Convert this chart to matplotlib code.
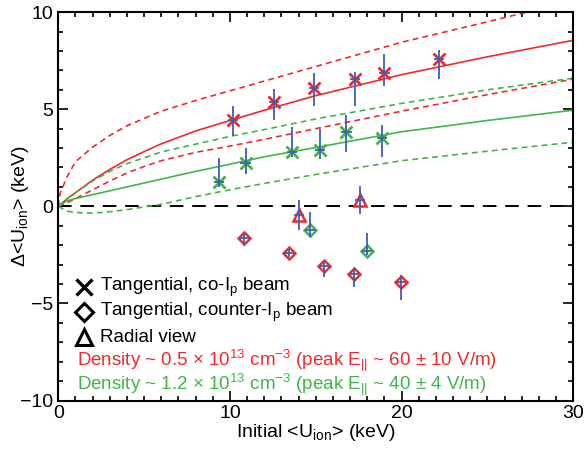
import numpy as np
import matplotlib as mpl
mpl.use('Agg')
import matplotlib.pyplot as plt
from matplotlib.ticker import MultipleLocator

plt.rcParams['font.family'] = ['Liberation Sans', 'DejaVu Sans']
plt.rcParams['mathtext.fontset'] = 'custom'
plt.rcParams['mathtext.rm'] = 'Liberation Sans'
plt.rcParams['mathtext.it'] = 'Liberation Sans'

RED = '#ee2a2f'
GREEN = '#42b54a'
BLUE = '#3d5fb0'

# model curves
red_x = [0, 0.5, 1, 2, 3, 4, 5, 6, 8, 10, 12, 15, 20, 25, 30]
red_mid = [0, 0.38, 0.7, 1.35, 1.9, 2.4, 2.82, 3.22, 3.88, 4.42, 4.95, 5.7, 6.78, 7.7, 8.55]
red_upx = [0, 0.1, 0.5, 1, 2, 3, 4, 6, 8, 10, 15, 20, 25, 27.3, 30]
red_up = [0, 0.65, 1.5, 2.3, 3.05, 3.65, 4.15, 4.9, 5.45, 5.95, 7.2, 8.45, 9.5, 10.0, 10.55]
red_lo = [0, 0.18, 0.4, 0.85, 1.3, 1.72, 2.05, 2.35, 2.78, 3.1, 3.45, 4.0, 4.9, 5.75, 6.55]

grn_x = [0, 0.5, 1, 2, 3, 4, 5, 6, 8, 10, 12, 15, 20, 25, 30]
grn_mid = [0, 0.28, 0.4, 0.6, 0.8, 1.0, 1.2, 1.4, 1.8, 2.17, 2.55, 3.03, 3.84, 4.42, 4.95]
grn_up = [0, 0.38, 0.7, 1.3, 1.8, 2.2, 2.5, 2.8, 3.2, 3.6, 3.95, 4.5, 5.3, 6.0, 6.6]
grn_lo = [0, -0.25, -0.32, -0.35, -0.28, -0.17, -0.03, 0.1, 0.5, 0.85, 1.18, 1.64, 2.35, 2.84, 3.3]

# measurements
co_red_x = [10.16, 12.56, 14.89, 17.28, 19.0, 22.19]
co_red_y = [4.42, 5.38, 6.09, 6.56, 6.86, 7.59]
co_red_lo = [3.6, 4.42, 5.19, 5.19, 6.22, 6.56]
co_red_hi = [5.17, 6.06, 6.85, 6.9, 7.83, 8.06]

co_grn_x = [9.35, 10.91, 13.6, 15.24, 16.78, 18.86]
co_grn_y = [1.24, 2.23, 2.81, 2.88, 3.82, 3.5]
co_grn_lo = [1.0, 1.68, 2.53, 2.45, 2.79, 2.53]
co_grn_hi = [2.5, 3.02, 4.08, 4.0, 4.68, 4.2]

rad_x = [14.02, 17.57]
rad_y = [-0.46, 0.34]
rad_lo = [-1.2, -0.41]
rad_hi = [0.31, 1.03]

ctr_red_x = [10.82, 13.41, 15.49, 17.24, 19.94]
ctr_red_y = [-1.61, -2.38, -3.07, -3.46, -3.89]
ctr_red_lo = [-2.06, -2.6, -3.63, -4.18, -4.83]
ctr_red_hi = [-1.37, -2.2, -2.78, -3.2, -3.55]

ctr_grn_x = [14.66, 17.97]
ctr_grn_y = [-1.23, -2.3]
ctr_grn_lo = [-1.58, -2.52]
ctr_grn_hi = [-0.29, -1.35]

XERR = 0.3

fig = plt.figure(figsize=(5.85, 4.49), dpi=100)
ax = fig.add_axes([0.0997, 0.108, 0.8803, 0.865])

ax.axhline(0, color='black', lw=1.4, dashes=(7, 4.5), zorder=1)

dash = (3.5, 2.5)
ax.plot(red_x, red_mid, color=RED, lw=1.2)
ax.plot(red_upx, red_up, color=RED, lw=1.2, dashes=dash)
ax.plot(red_x, red_lo, color=RED, lw=1.2, dashes=dash)
ax.plot(grn_x, grn_mid, color=GREEN, lw=1.2)
ax.plot(grn_x, grn_up, color=GREEN, lw=1.2, dashes=dash)
ax.plot(grn_x, grn_lo, color=GREEN, lw=1.2, dashes=dash)


def errs(y, lo, hi):
    y = np.array(y)
    return [y - np.array(lo), np.array(hi) - y]


def points(x, y, lo, hi, marker, color, ms):
    ax.errorbar(x, y, yerr=errs(y, lo, hi), xerr=XERR, fmt='none',
                ecolor=BLUE, elinewidth=1.3, capsize=0, zorder=4)
    if marker == 'x':
        ax.plot(x, y, ls='none', marker='x', color=color, ms=ms, mew=2, zorder=3)
    else:
        ax.plot(x, y, ls='none', marker=marker, mfc='white', mec=color,
                ms=ms, mew=1.8, zorder=3)


points(co_red_x, co_red_y, co_red_lo, co_red_hi, 'x', RED, 9)
points(co_grn_x, co_grn_y, co_grn_lo, co_grn_hi, 'x', GREEN, 9)
points(ctr_red_x, ctr_red_y, ctr_red_lo, ctr_red_hi, 'D', RED, 6.5)
points(ctr_grn_x, ctr_grn_y, ctr_grn_lo, ctr_grn_hi, 'D', GREEN, 6.5)
points(rad_x, rad_y, rad_lo, rad_hi, '^', RED, 9)

ax.set_xlim(0, 30)
ax.set_ylim(-10, 10)
ax.xaxis.set_major_locator(MultipleLocator(10))
ax.xaxis.set_minor_locator(MultipleLocator(1))
ax.yaxis.set_major_locator(MultipleLocator(5))
ax.yaxis.set_minor_locator(MultipleLocator(1))
ax.tick_params(which='both', direction='in', top=True, right=True,
               labelsize=14, width=1.2)
ax.tick_params(which='major', length=7)
ax.tick_params(which='minor', length=3.5)
for s in ax.spines.values():
    s.set_linewidth(1.5)

ax.set_xlabel(r'Initial <U$_{\mathregular{ion}}$> (keV)', fontsize=14, labelpad=0)
ax.set_ylabel(r'$\Delta$<U$_{\mathregular{ion}}$> (keV)', fontsize=14)
ax.yaxis.set_label_coords(-0.053, 0.5)

# legend
leg_rows = [0.292, 0.228, 0.163]
leg_marks = ['x', 'D', '^']
leg_labels = [r'Tangential, co-I$_\mathregular{p}$ beam',
              r'Tangential, counter-I$_\mathregular{p}$ beam',
              'Radial view']
for yy, m, lab in zip(leg_rows, leg_marks, leg_labels):
    if m == 'x':
        ax.plot([0.05], [yy], transform=ax.transAxes, marker='x', color='black',
                ms=12, mew=2.4, ls='none')
    else:
        ax.plot([0.05], [yy], transform=ax.transAxes, marker=m, mfc='white',
                mec='black', ms=11 if m == '^' else 9, mew=2.2, ls='none')
    ax.text(0.081, yy, lab, transform=ax.transAxes, fontsize=13.5,
            va='center', ha='left')

ax.text(0.036, 0.102,
        r'Density ~ 0.5 × 10$^{\mathregular{13}}$ cm$^{\mathregular{-3}}$ (peak E$_{\mathregular{||}}$ ~ 60 ± 10 V/m)',
        transform=ax.transAxes, fontsize=13.5, va='center', ha='left', color=RED)
ax.text(0.036, 0.040,
        r'Density ~ 1.2 × 10$^{\mathregular{13}}$ cm$^{\mathregular{-3}}$ (peak E$_{\mathregular{||}}$ ~ 40 ± 4 V/m)',
        transform=ax.transAxes, fontsize=13.5, va='center', ha='left', color=GREEN)

fig.savefig('out.png', dpi=100)
